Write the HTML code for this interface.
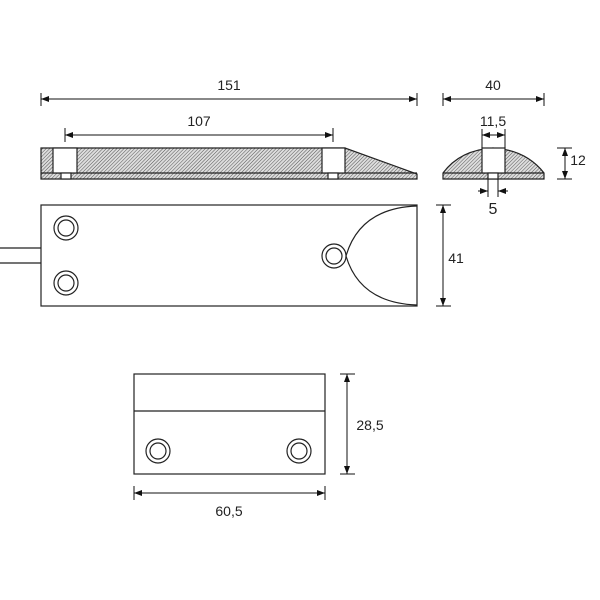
<!DOCTYPE html>
<html><head><style>body{margin:0;background:#fff}svg{display:block}text{font-family:"Liberation Sans",sans-serif;font-size:14px;fill:#222}</style></head><body>
<svg width="600" height="600" viewBox="0 0 600 600" xmlns="http://www.w3.org/2000/svg">
<defs>
<pattern id="h" width="2.5" height="2.5" patternUnits="userSpaceOnUse" patternTransform="rotate(45)"><rect width="2.5" height="2.5" fill="#ddd"/><line x1="0" y1="0" x2="0" y2="2.5" stroke="#555" stroke-width="1"/></pattern>
<marker id="a" markerWidth="8" markerHeight="6" refX="8" refY="3" orient="auto-start-reverse" markerUnits="userSpaceOnUse"><path d="M0,0 L8,3 L0,6z" fill="#111"/></marker>
</defs>
<g stroke="#222" stroke-width="1.2" fill="none">
<path d="M41,148 H345 L417,174 V179 H41 Z" fill="url(#h)"/>
<line x1="41" y1="173" x2="417" y2="173"/>
<rect x="53" y="148" width="24" height="25" fill="#fff"/>
<rect x="61" y="173" width="10" height="6" fill="#fff"/>
<rect x="322" y="148" width="23" height="25" fill="#fff"/>
<rect x="328" y="173" width="10" height="6" fill="#fff"/>
<path d="M443,173 Q460,150 493,148 Q526,150 544,173 V179 H443 Z" fill="url(#h)"/>
<line x1="443" y1="173" x2="544" y2="173"/>
<rect x="482" y="148" width="23" height="25" fill="#fff"/>
<rect x="488" y="173" width="10" height="6" fill="#fff"/>
<rect x="41" y="205" width="376" height="101" fill="#fff"/>
<path d="M417,206 Q360,208 346,256 Q360,303 417,305"/>
<line x1="0" y1="248" x2="41" y2="248"/><line x1="0" y1="263" x2="41" y2="263"/>
<circle cx="66" cy="228" r="12"/><circle cx="66" cy="228" r="8"/>
<circle cx="66" cy="283" r="12"/><circle cx="66" cy="283" r="8"/>
<circle cx="334" cy="256" r="12" fill="#fff"/><circle cx="334" cy="256" r="8"/>
<rect x="134" y="374" width="191" height="100"/>
<line x1="134" y1="411" x2="325" y2="411"/>
<circle cx="158" cy="451" r="12"/><circle cx="158" cy="451" r="8"/>
<circle cx="299" cy="451" r="12"/><circle cx="299" cy="451" r="8"/>
</g>
<g stroke="#111" stroke-width="1">
<line x1="41" y1="99" x2="417" y2="99" marker-start="url(#a)" marker-end="url(#a)"/>
<line x1="41" y1="93" x2="41" y2="106"/><line x1="417" y1="93" x2="417" y2="106"/>
<line x1="65" y1="135" x2="333" y2="135" marker-start="url(#a)" marker-end="url(#a)"/>
<line x1="65" y1="128" x2="65" y2="142"/><line x1="333" y1="128" x2="333" y2="142"/>
<line x1="443" y1="99" x2="544" y2="99" marker-start="url(#a)" marker-end="url(#a)"/>
<line x1="443" y1="93" x2="443" y2="106"/><line x1="544" y1="93" x2="544" y2="106"/>
<line x1="482" y1="135" x2="505" y2="135" marker-start="url(#a)" marker-end="url(#a)"/>
<line x1="482" y1="129" x2="482" y2="148"/><line x1="505" y1="129" x2="505" y2="148"/>
<line x1="565" y1="148" x2="565" y2="179" marker-start="url(#a)" marker-end="url(#a)"/>
<line x1="557" y1="148" x2="572" y2="148"/><line x1="557" y1="179" x2="572" y2="179"/>
<line x1="478" y1="191" x2="488" y2="191" marker-end="url(#a)"/><line x1="508" y1="191" x2="498" y2="191" marker-end="url(#a)"/>
<line x1="488" y1="179" x2="488" y2="197"/><line x1="498" y1="179" x2="498" y2="197"/>
<line x1="443" y1="205" x2="443" y2="306" marker-start="url(#a)" marker-end="url(#a)"/>
<line x1="436" y1="205" x2="451" y2="205"/><line x1="436" y1="306" x2="451" y2="306"/>
<line x1="347" y1="374" x2="347" y2="474" marker-start="url(#a)" marker-end="url(#a)"/>
<line x1="340" y1="374" x2="355" y2="374"/><line x1="340" y1="474" x2="355" y2="474"/>
<line x1="134" y1="493" x2="325" y2="493" marker-start="url(#a)" marker-end="url(#a)"/>
<line x1="134" y1="486" x2="134" y2="500"/><line x1="325" y1="486" x2="325" y2="500"/>
</g>
<text x="229" y="90" text-anchor="middle">151</text>
<text x="199" y="126" text-anchor="middle">107</text>
<text x="493" y="90" text-anchor="middle">40</text>
<text x="493" y="126" text-anchor="middle">11,5</text>
<text x="578" y="165" text-anchor="middle">12</text>
<text x="493" y="214" text-anchor="middle" style="font-size:16px">5</text>
<text x="456" y="263" text-anchor="middle">41</text>
<text x="370" y="430" text-anchor="middle">28,5</text>
<text x="229" y="516" text-anchor="middle">60,5</text>
</svg>
</body></html>
